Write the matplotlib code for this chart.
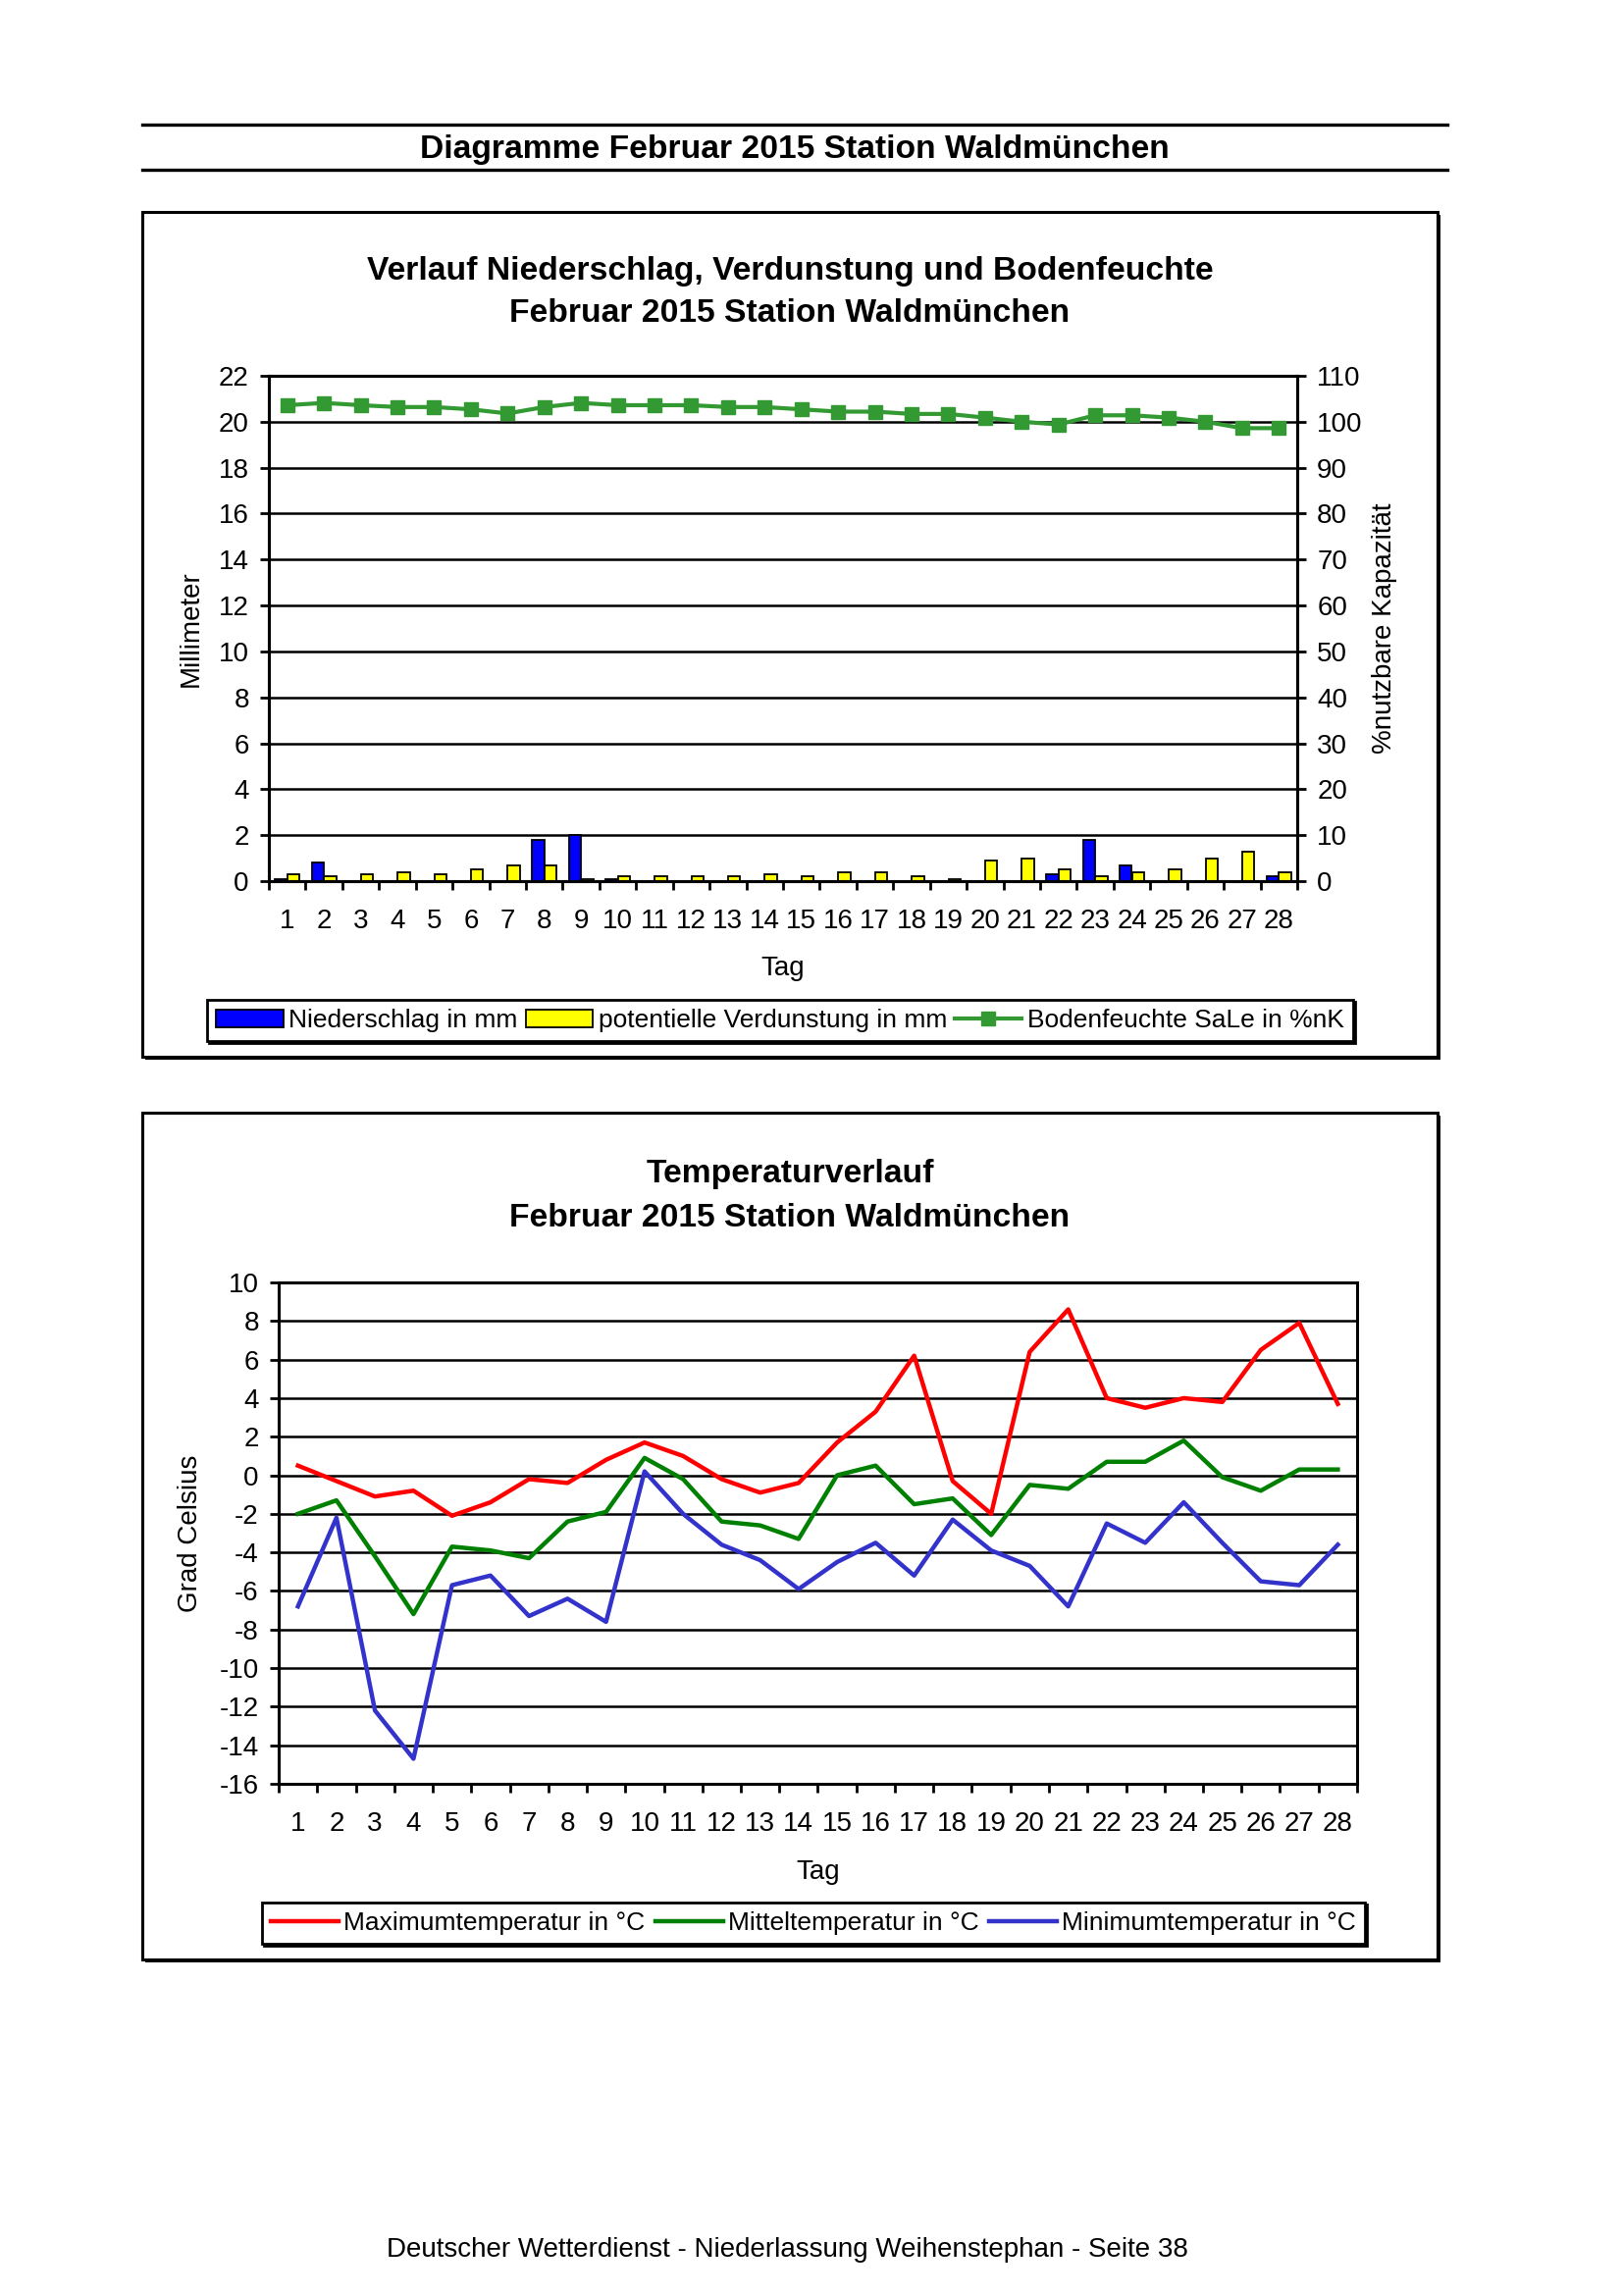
import numpy as np
import matplotlib
matplotlib.use("Agg")
import matplotlib.pyplot as plt
from matplotlib.patches import Rectangle
from matplotlib.lines import Line2D

plt.rcParams['font.family'] = ['Liberation Sans', 'DejaVu Sans']
plt.rcParams['axes.unicode_minus'] = False

W, H = 1653, 2340

days = np.arange(1, 29)
day_labels = [str(d) for d in days]

# Niederschlag / Verdunstung in mm, Bodenfeuchte in %nK
niederschlag = [0.1, 0.8, 0.0, 0.0, 0.0, 0.0, 0.0, 1.8, 2.0, 0.1,
                0.0, 0.0, 0.0, 0.0, 0.0, 0.0, 0.0, 0.0, 0.0, 0.0,
                0.0, 0.3, 1.8, 0.7, 0.0, 0.0, 0.0, 0.2]
verdunstung = [0.3, 0.2, 0.3, 0.4, 0.3, 0.5, 0.7, 0.7, 0.1, 0.2,
               0.2, 0.2, 0.2, 0.3, 0.2, 0.4, 0.4, 0.2, 0.1, 0.9,
               1.0, 0.5, 0.2, 0.4, 0.5, 1.0, 1.3, 0.4]
bodenfeuchte = [103.6, 104.1, 103.6, 103.2, 103.2, 102.7, 101.8, 103.2, 104.1, 103.6,
                103.6, 103.6, 103.2, 103.2, 102.7, 102.2, 102.2, 101.7, 101.7, 100.9,
                100.0, 99.4, 101.4, 101.4, 100.9, 100.0, 98.6, 98.6]

# Temperaturen in Grad Celsius
t_max = [0.5, -0.3, -1.1, -0.8, -2.1, -1.4, -0.2, -0.4, 0.8, 1.7,
         1.0, -0.2, -0.9, -0.4, 1.7, 3.3, 6.2, -0.3, -2.0, 6.4,
         8.6, 4.0, 3.5, 4.0, 3.8, 6.5, 7.9, 3.7]
t_mit = [-2.0, -1.3, -4.2, -7.2, -3.7, -3.9, -4.3, -2.4, -1.9, 0.9,
         -0.2, -2.4, -2.6, -3.3, 0.0, 0.5, -1.5, -1.2, -3.1, -0.5,
         -0.7, 0.7, 0.7, 1.8, -0.1, -0.8, 0.3, 0.3]
t_min = [-6.8, -2.2, -12.2, -14.7, -5.7, -5.2, -7.3, -6.4, -7.6, 0.2,
         -2.0, -3.6, -4.4, -5.9, -4.5, -3.5, -5.2, -2.3, -3.9, -4.7,
         -6.8, -2.5, -3.5, -1.4, -3.5, -5.5, -5.7, -3.6]

FS = 20       # tick / axis label text
FS_L = 19     # legend text
FS_T = 24.2   # titles


def fig_box(x0, y0, x1, y1):
    """pixel box (top-left origin) -> figure fraction rect"""
    return [x0 / W, 1 - y1 / H, (x1 - x0) / W, (y1 - y0) / H]


def frame(fig, x0, y0, x1, y1, lw=2.2):
    sh = 3
    fig.add_artist(Rectangle((x0 / W + sh / W, 1 - y1 / H - sh / H), (x1 - x0) / W, (y1 - y0) / H,
                             transform=fig.transFigure, facecolor='black', edgecolor='none', zorder=-3))
    fig.add_artist(Rectangle((x0 / W, 1 - y1 / H), (x1 - x0) / W, (y1 - y0) / H,
                             transform=fig.transFigure, facecolor='white', edgecolor='black',
                             lw=lw, zorder=-2))


def style_axis(ax, ymin, ymax, ystep):
    ax.set_xlim(0.5, 28.5)
    ax.set_ylim(ymin, ymax)
    ax.set_yticks(np.arange(ymin, ymax + 0.01, ystep))
    ax.set_xticks(days)
    ax.set_xticklabels(day_labels)
    ax.set_xticks(np.arange(0.5, 29.0, 1.0), minor=True)
    ax.tick_params(axis='x', which='major', length=0, pad=20, labelsize=FS)
    ax.tick_params(axis='x', which='minor', length=6.5, width=2.0, direction='out')
    ax.tick_params(axis='y', which='major', length=6.5, width=2.0, direction='out',
                   pad=8, labelsize=FS)
    ax.grid(axis='y', color='black', lw=1.8)
    ax.set_axisbelow(True)
    for s in ax.spines.values():
        s.set_linewidth(2.2)
    ax.patch.set_alpha(0)


fig = plt.figure(figsize=(W / 100, H / 100), dpi=100)

# header
fig.add_artist(Line2D([145 / W, 1475 / W], [1 - 127 / H] * 2, color='black', lw=2.4))
fig.add_artist(Line2D([145 / W, 1475 / W], [1 - 173 / H] * 2, color='black', lw=2.4))
fig.text(810 / W, 1 - 152 / H, "Diagramme Februar 2015 Station Waldmünchen",
         ha='center', va='center', fontsize=FS_T, fontweight='bold')

# ---------- chart 1 ----------
frame(fig, 145, 216, 1465, 1077)
fig.text(805 / W, 1 - 276 / H, "Verlauf Niederschlag, Verdunstung und Bodenfeuchte",
         ha='center', va='center', fontsize=FS_T, fontweight='bold')
fig.text(805 / W, 1 - 320 / H, "Februar 2015 Station Waldmünchen",
         ha='center', va='center', fontsize=FS_T, fontweight='bold')

ax1 = fig.add_axes(fig_box(274, 383, 1322, 898))
b1 = ax1.bar(days - 0.17, niederschlag, width=0.33, color='#0000FF', edgecolor='black',
             lw=1.3, label='Niederschlag in mm')
b2 = ax1.bar(days + 0.17, verdunstung, width=0.33, color='#FFFF00', edgecolor='black',
             lw=1.3, label='potentielle Verdunstung in mm')
style_axis(ax1, 0, 22, 2)
ax1.set_ylabel("Millimeter", fontsize=FS, va='center')
ax1.yaxis.set_label_coords(-0.076, 0.5)
ax1.set_xlabel("Tag", fontsize=FS, va='center')
ax1.xaxis.set_label_coords(0.5, -0.172)

ax2 = ax1.twinx()
l1, = ax2.plot(days, bodenfeuchte, color='#339933', lw=3, marker='s', ms=10,
               label='Bodenfeuchte SaLe in %nK')
ax2.set_ylim(0, 110)
ax2.set_yticks(np.arange(0, 111, 10))
ax2.tick_params(axis='y', length=6.5, width=2.0, direction='out', pad=8, labelsize=FS)
for s in ax2.spines.values():
    s.set_linewidth(2.2)
ax2.set_ylabel("%nutzbare Kapazität", fontsize=FS, rotation=90, va='center')
ax2.yaxis.set_label_coords(1.085, 0.5)

leg1 = fig.legend(handles=[b1, b2, l1], loc='center', ncol=3,
                  bbox_to_anchor=(795 / W, 1 - 1040 / H), fontsize=FS_L,
                  frameon=True, fancybox=False, edgecolor='black',
                  handlelength=2.6, handletextpad=0.2, columnspacing=0.3,
                  borderpad=0.35, borderaxespad=0,
                  shadow={'color': 'black', 'alpha': 1, 'ox': 1.5, 'oy': -1.5})
leg1.get_frame().set_linewidth(2)

# ---------- chart 2 ----------
frame(fig, 145, 1134, 1465, 1997)
fig.text(805 / W, 1 - 1196 / H, "Temperaturverlauf",
         ha='center', va='center', fontsize=FS_T, fontweight='bold')
fig.text(805 / W, 1 - 1241 / H, "Februar 2015 Station Waldmünchen",
         ha='center', va='center', fontsize=FS_T, fontweight='bold')

ax3 = fig.add_axes(fig_box(284, 1307, 1383, 1818))
ax3.plot(days, t_max, color='#FF0000', lw=3.2, label='Maximumtemperatur in °C')
ax3.plot(days, t_mit, color='#008000', lw=3.2, label='Mitteltemperatur in °C')
ax3.plot(days, t_min, color='#3333CC', lw=3.2, label='Minimumtemperatur in °C')
style_axis(ax3, -16, 10, 2)
ax3.set_ylabel("Grad Celsius", fontsize=FS, va='center')
ax3.yaxis.set_label_coords(-0.082, 0.5)
ax3.set_xlabel("Tag", fontsize=FS, va='center')
ax3.xaxis.set_label_coords(0.5, -0.177)

leg2 = fig.legend(handles=ax3.get_lines(), loc='center', ncol=3,
                  bbox_to_anchor=(829 / W, 1 - 1960 / H), fontsize=FS_L,
                  frameon=True, fancybox=False, edgecolor='black',
                  handlelength=2.6, handletextpad=0.2, columnspacing=0.4,
                  borderpad=0.35, borderaxespad=0,
                  shadow={'color': 'black', 'alpha': 1, 'ox': 1.5, 'oy': -1.5})
leg2.get_frame().set_linewidth(2)

# footer
fig.text(802 / W, 1 - 2293 / H,
         "Deutscher Wetterdienst - Niederlassung Weihenstephan - Seite 38",
         ha='center', va='center', fontsize=FS)

fig.savefig("out.png", dpi=100)
